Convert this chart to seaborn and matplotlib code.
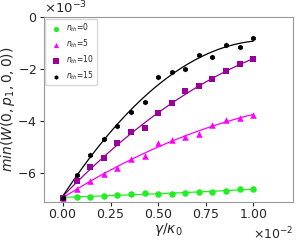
import numpy as np
import pandas as pd
import seaborn as sns
import matplotlib
matplotlib.use("Agg")
import matplotlib.pyplot as plt

# gamma/kappa_0 values (15 points from 0 to 1e-2)
gamma = [0.0, 0.0714, 0.1429, 0.2143, 0.2857, 0.3571, 0.4286, 0.5,
         0.5714, 0.6429, 0.7143, 0.7857, 0.8571, 0.9286, 1.0]

# min(W), in units of 1e-3
w_n0 = [-6.95, -6.92, -6.91, -6.88, -6.87, -6.83, -6.78, -6.82,
        -6.81, -6.76, -6.73, -6.73, -6.69, -6.63, -6.63]
w_n5 = [-6.95, -6.63, -6.30, -6.03, -5.82, -5.46, -5.35, -4.86,
        -4.74, -4.60, -4.51, -4.15, -3.96, -3.90, -3.77]
w_n10 = [-6.95, -6.33, -5.78, -5.44, -4.86, -4.44, -4.28, -3.71,
         -3.32, -2.85, -2.64, -2.38, -2.08, -1.81, -1.63]
w_n15 = [-6.95, -6.09, -5.31, -4.71, -4.18, -3.64, -3.26, -2.32,
         -2.10, -2.00, -1.46, -1.53, -1.09, -1.14, -0.80]

labels = ["$n_{th}$=0", "$n_{th}$=5", "$n_{th}$=10", "$n_{th}$=15"]
colors = ["#22ee22", "#ff00ff", "#990099", "black"]
markers = ["o", "^", "s", "h"]
sizes = [22, 22, 22, 16]

sns.set_style("ticks")
plt.rcParams["font.family"] = ["DejaVu Sans"]
plt.rcParams["axes.formatter.use_mathtext"] = True
plt.rcParams["font.size"] = 9

x = np.array(gamma) * 1e-2
series = [w_n0, w_n5, w_n10, w_n15]

fig = plt.figure(figsize=(2.97, 2.41), dpi=100)
ax = fig.add_axes([0.148, 0.162, 0.839, 0.767])

xfit = np.linspace(0, 1e-2, 100)
for vals, lab, col, mk, sz in zip(series, labels, colors, markers, sizes):
    y = np.array(vals) * 1e-3
    # smooth fitted curve
    coef = np.polyfit(x, y, 2)
    sns.lineplot(x=xfit, y=np.polyval(coef, xfit), color=col, lw=0.9, ax=ax)
    sns.scatterplot(x=x, y=y, color=col, marker=mk, s=sz, edgecolor=col,
                    linewidth=0, label=lab, ax=ax, zorder=3)

ax.set_xlim(-0.001, 0.0121)
ax.set_ylim(-0.00712, 0)
ax.set_xticks([0, 0.0025, 0.005, 0.0075, 0.01])
ax.set_yticks([-0.006, -0.004, -0.002, 0])
ax.ticklabel_format(style="sci", axis="both", scilimits=(0, 0))
ax.tick_params(labelsize=9, length=3, pad=2)
ax.tick_params(axis="x", pad=1.5)
ax.xaxis.get_offset_text().set_fontsize(9)
ax.yaxis.get_offset_text().set_fontsize(9.5)
for sp in ax.spines.values():
    sp.set_color("0.6")
sns.despine(ax=ax, top=False, right=False)

ax.set_xlabel(r"$\gamma/\kappa_0$", fontsize=10, labelpad=0)
ax.set_ylabel(r"$min(W(0,p_1,0,0))$", fontsize=10, labelpad=0)

ax.legend(loc="upper left", fontsize=5.5, borderaxespad=0.2,
          handletextpad=0.3, markerscale=0.8, labelspacing=0.45, frameon=True)

fig.savefig("out.png", dpi=100)
